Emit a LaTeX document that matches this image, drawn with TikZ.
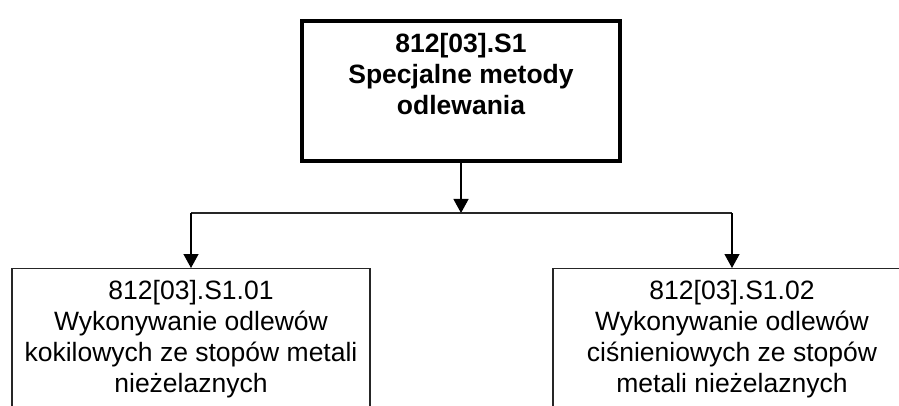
\documentclass[tikz,border=0pt]{standalone}
\usepackage{fontspec}
\setmainfont{Liberation Sans}
\usetikzlibrary{arrows.meta}
\tikzset{
  mainbox/.style={rectangle, draw=black, line width=4pt,
                  minimum width=318pt, minimum height=140pt,
                  inner sep=0pt, align=center,
                  font=\fontsize{26.5}{31}\selectfont\bfseries},
  subbox/.style={rectangle, draw=black!85, line width=1.3pt,
                 minimum width=358pt, minimum height=140pt,
                 inner sep=0pt, align=center,
                 font=\fontsize{26.5}{31}\selectfont},
  arr/.style={-{Triangle[length=14pt, width=15pt]}, black, line width=1.3pt},
  link/.style={black!85, line width=1.3pt},
}
\begin{document}
\begin{tikzpicture}[x=1pt, y=-1pt]
  \useasboundingbox (0,0) rectangle (899,406);
  \clip (0,0) rectangle (899,406);
  %% Top unit
  \node[mainbox] (root) at (461,91)
    {812[03].S1\\Specjalne metody\\odlewania\\\rule[-4pt]{0pt}{4pt}};
  %% Sub-units
  \node[subbox, anchor=north] (s01) at (191,268)
    {812[03].S1.01\\Wykonywanie odlewów\\kokilowych ze stopów metali\\nieżelaznych};
  \node[subbox, anchor=north] (s02) at (732,268)
    {812[03].S1.02\\Wykonywanie odlewów\\ciśnieniowych ze stopów\\metali nieżelaznych};
  %% Connectors
  \coordinate (split) at (461,213);
  \draw[arr] (root.south) -- (split);
  \draw[link] (s01.north |- split) -- (s02.north |- split);
  \foreach \n in {s01,s02}
    \draw[arr] (\n.north |- split) -- (\n.north);
\end{tikzpicture}
\end{document}
